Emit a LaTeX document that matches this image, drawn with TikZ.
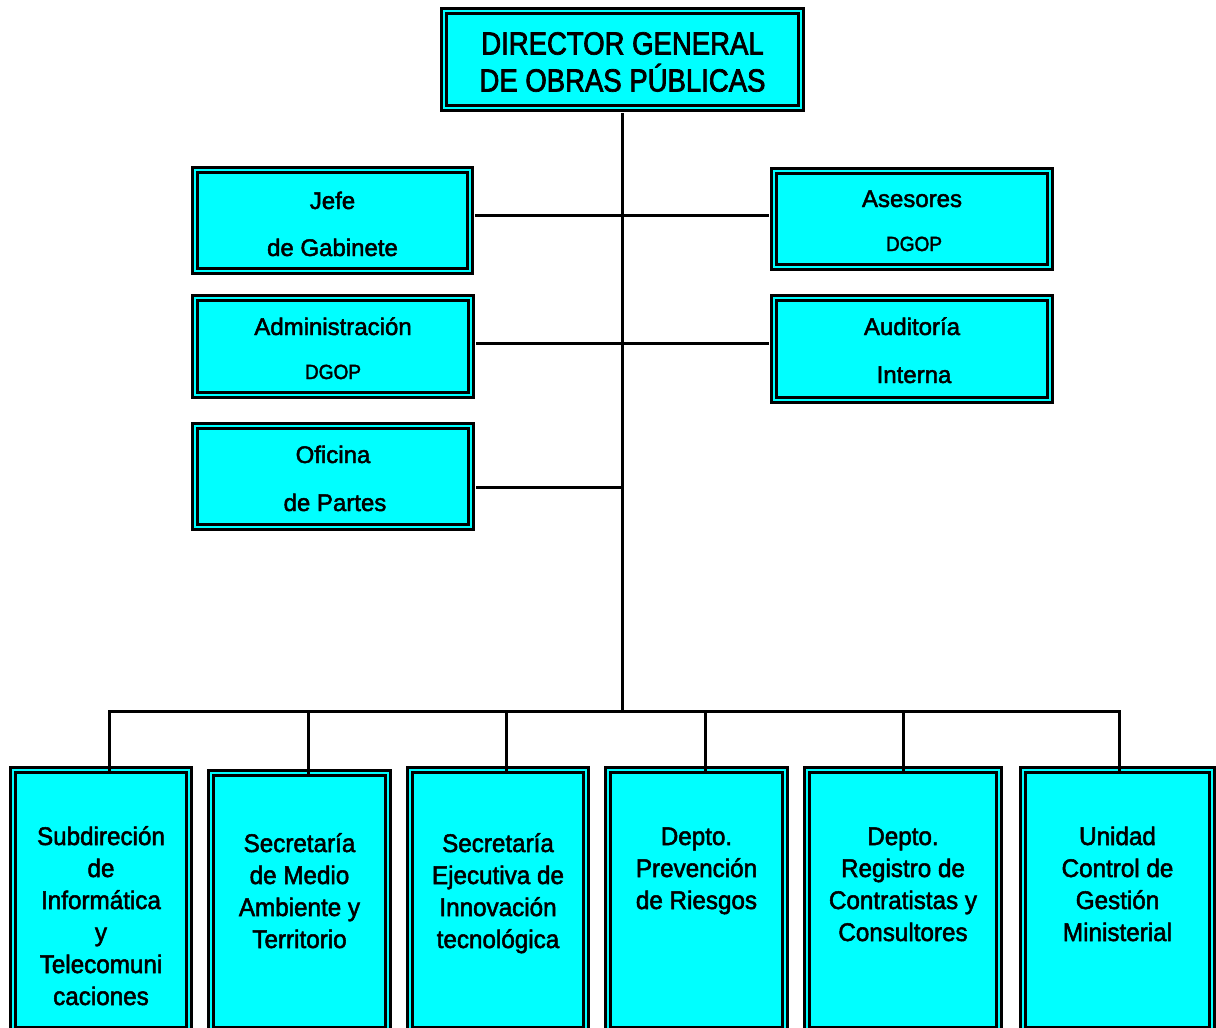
\documentclass[tikz,border=0pt]{standalone}
\usepackage{fontspec}
\setmainfont{Liberation Sans}[FakeBold=2]
\newfontfamily\fside{Liberation Sans}[FakeBold=2]
\newfontfamily\ftitle{Liberation Sans}[FakeStretch=0.86, FakeBold=2.2]
\newfontfamily\fbottom{Liberation Sans}[FakeStretch=0.95, FakeBold=2]
\newfontfamily\fsmall{Liberation Sans}[FakeStretch=0.93, FakeBold=2]
\definecolor{boxcyan}{RGB}{0,255,255}
\begin{document}
\begin{tikzpicture}[x=1pt,y=-1pt,
  orgbox/.style={draw=black, line width=2.8pt, double=boxcyan, double distance=2.8pt,
    fill=boxcyan, rectangle, inner sep=0pt},
  conn/.style={draw=black, line width=3pt},
  ttl/.style={anchor=base, inner sep=0pt, font=\ftitle\fontsize{32}{36}\selectfont},
  side/.style={anchor=base, inner sep=0pt, font=\fside\fontsize{24}{28}\selectfont},
  small/.style={anchor=base, inner sep=0pt, font=\fsmall\fontsize{20.5}{24}\selectfont},
  bot/.style={anchor=base, inner sep=0pt, font=\fbottom\fontsize{25.5}{30}\selectfont}]
\useasboundingbox (0,0) rectangle (1216,1028);
\clip (0,0) rectangle (1216,1028);

% boxes
\node[orgbox, minimum width=357pt, minimum height=97pt] (top) at (622.5,59.5) {};
\node[orgbox, minimum width=275pt, minimum height=101pt] (jefe) at (332.5,220.5) {};
\node[orgbox, minimum width=276pt, minimum height=97pt] (admin) at (333,346.5) {};
\node[orgbox, minimum width=276pt, minimum height=101pt] (ofic) at (333,476.5) {};
\node[orgbox, minimum width=276pt, minimum height=96pt] (ases) at (912,219) {};
\node[orgbox, minimum width=276pt, minimum height=102pt] (audit) at (912,349) {};

\node[orgbox, minimum width=176pt, minimum height=260pt] (b1) at (101,900) {};
\node[orgbox, minimum width=177pt, minimum height=257pt] (b2) at (299.5,901.5) {};
\node[orgbox, minimum width=176pt, minimum height=260pt] (b3) at (498,900) {};
\node[orgbox, minimum width=177pt, minimum height=260pt] (b4) at (696.5,900) {};
\node[orgbox, minimum width=192pt, minimum height=260pt] (b5) at (903,900) {};
\node[orgbox, minimum width=189pt, minimum height=260pt] (b6) at (1117.5,900) {};

% connectors
\coordinate (bus) at (622,711);
\coordinate (hj) at (622,215);
\coordinate (ha) at (622,343);
\coordinate (ho) at (622,487);
\coordinate (x1) at (109,0);
\coordinate (x2) at (308,0);
\coordinate (x3) at (506,0);
\coordinate (x4) at (705,0);
\coordinate (x5) at (903,0);
\coordinate (x6) at (1119,0);

\draw[conn, shorten <=4pt] (top.south -| bus) -- (bus);
\draw[conn, shorten <=4pt, shorten >=4pt] (jefe.east |- hj) -- (ases.west |- hj);
\draw[conn, shorten <=4pt, shorten >=4pt] (admin.east |- ha) -- (audit.west |- ha);
\draw[conn, shorten <=4pt] (ofic.east |- ho) -- (ho);
\draw[conn] ([yshift=-5pt]b1.north -| x1) |- (bus) -| ([yshift=-5pt]b6.north -| x6);
\draw[conn] ([yshift=-5pt]b2.north -| x2) -- (bus -| x2);
\draw[conn] ([yshift=-5pt]b3.north -| x3) -- (bus -| x3);
\draw[conn] ([yshift=-5pt]b4.north -| x4) -- (bus -| x4);
\draw[conn] ([yshift=-5pt]b5.north -| x5) -- (bus -| x5);

% texts
\node[ttl] (top-1) at (622.5,54.5) {DIRECTOR GENERAL};
\node[ttl] (top-2) at (622.5,91.5) {DE OBRAS PÚBLICAS};

\node[side] (jefe-1) at (332.5,209) {Jefe};
\node[side] (jefe-2) at (332.5,256) {de Gabinete};
\node[side] (ases-1) at (912,207) {Asesores};
\node[small] (ases-2) at (914,251) {DGOP};
\node[side] (admin-1) at (333,335) {Administración};
\node[small] (admin-2) at (333,379) {DGOP};
\node[side] (audit-1) at (912,335) {Auditoría};
\node[side] (audit-2) at (914,383) {Interna};
\node[side] (ofic-1) at (333,463) {Oficina};
\node[side] (ofic-2) at (335,511) {de Partes};

\node[bot] (b1-1) at (101,845) {Subdireción};
\node[bot] (b1-2) at (101,877) {de};
\node[bot] (b1-3) at (101,909) {Informática};
\node[bot] (b1-4) at (101,941) {y};
\node[bot] (b1-5) at (101,973) {Telecomuni};
\node[bot] (b1-6) at (101,1005) {caciones};

\node[bot] (b2-1) at (299.5,852) {Secretaría};
\node[bot] (b2-2) at (299.5,884) {de Medio};
\node[bot] (b2-3) at (299.5,916) {Ambiente y};
\node[bot] (b2-4) at (299.5,948) {Territorio};

\node[bot] (b3-1) at (498,852) {Secretaría};
\node[bot] (b3-2) at (498,884) {Ejecutiva de};
\node[bot] (b3-3) at (498,916) {Innovación};
\node[bot] (b3-4) at (498,948) {tecnológica};

\node[bot] (b4-1) at (696.5,845) {Depto.};
\node[bot] (b4-2) at (696.5,877) {Prevención};
\node[bot] (b4-3) at (696.5,909) {de Riesgos};

\node[bot] (b5-1) at (903,845) {Depto.};
\node[bot] (b5-2) at (903,877) {Registro de};
\node[bot] (b5-3) at (903,909) {Contratistas y};
\node[bot] (b5-4) at (903,941) {Consultores};

\node[bot] (b6-1) at (1117.5,845) {Unidad};
\node[bot] (b6-2) at (1117.5,877) {Control de};
\node[bot] (b6-3) at (1117.5,909) {Gestión};
\node[bot] (b6-4) at (1117.5,941) {Ministerial};
\end{tikzpicture}
\end{document}
